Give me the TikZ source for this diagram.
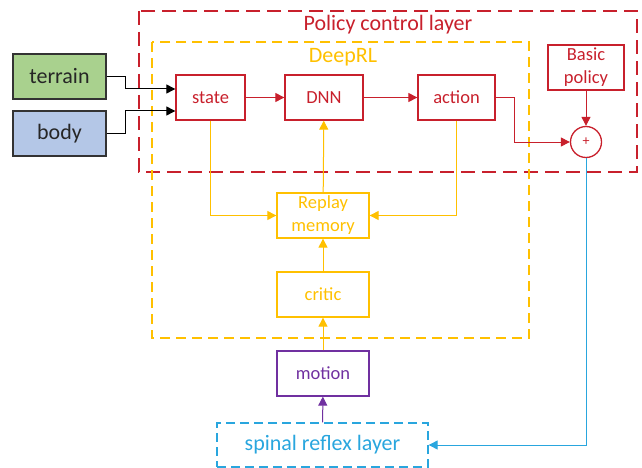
\documentclass[tikz,border=0pt]{standalone}
\usepackage{fontspec}
\setmainfont{Carlito}
\usetikzlibrary{arrows.meta}
\definecolor{pcred}{RGB}{200,32,44}
\definecolor{rlyel}{RGB}{255,192,0}
\definecolor{mopur}{RGB}{112,48,160}
\definecolor{spblu}{RGB}{41,166,222}
\definecolor{tergreen}{RGB}{169,209,142}
\definecolor{bodblue}{RGB}{180,199,231}

\begin{document}
\begin{tikzpicture}[x=1pt,y=-1pt,
  box/.style={draw,line width=1.3pt,minimum width=#1,minimum height=45pt,inner sep=0pt,
    align=center,font=\fontsize{18.5}{23}\selectfont},
  inbox/.style={draw=black!80,line width=1.3pt,minimum width=93pt,minimum height=45pt,
    font=\fontsize{22}{26}\selectfont,text=black!85},
  link/.style={line width=1pt,-{Triangle[length=9pt,width=9pt]}}]
 \useasboundingbox (0,0) rectangle (642,468);
 \draw[pcred,line width=2pt,dash pattern=on 14pt off 7pt] (139,11) rectangle (637,172); %方策制御層
 \node[pcred,font=\fontsize{22}{26}\selectfont] (pcl) at (388,25) {Policy control layer};
 \draw[rlyel,line width=1.3pt,dash pattern=on 10pt off 6pt] (152,42) rectangle (529,338); %DeepRL
 \node[rlyel,font=\fontsize{22}{26}\selectfont] (drl) at (343,57) {DeepRL};

 \node[inbox,fill=tergreen] (terrain) at (59.5,76.5) {terrain}; %入力
 \node[inbox,fill=bodblue] (body) at (59.5,133.5) {body};
 \node[box=69pt,pcred] (state) at (210.5,97.5) {state};
 \node[box=78pt,pcred] (dnn) at (324,97.5) {DNN};
 \node[box=77pt,pcred] (action) at (456.5,97.5) {action};
 \node[box=76pt,pcred] (basic) at (586,67.5) {Basic\\policy};
 \node[circle,draw=pcred,text=pcred,line width=1.3pt,minimum size=31pt,inner sep=0pt,
   font=\fontsize{14}{14}\selectfont] (sum) at (586,142) {+}; %加算
 \node[box=92pt,rlyel] (replay) at (323,215.5) {Replay\\memory};
 \node[box=92pt,rlyel] (critic) at (323,294.5) {critic};
 \node[box=92pt,mopur] (motion) at (323,373.5) {motion};
 \node[box=211pt,spblu,dash pattern=on 9pt off 5pt,minimum height=44pt,
   font=\fontsize{22}{26}\selectfont] (spinal) at (322.5,445) {spinal reflex layer};

 \draw[link,black] (terrain.east) -- (125,76.5) |- ([yshift=8.5pt]state.west);
 \draw[link,black] (body.east) -- (125,133.5) |- ([yshift=-13.5pt]state.west);
 \draw[link,pcred] (state) -- (dnn);
 \draw[link,pcred] (dnn) -- (action);
 \draw[link,pcred] (action.east) -- (514,97.5) |- (sum.west);
 \draw[link,pcred] (basic) -- (sum);
 \draw[link,rlyel] (state.south) |- (replay.west);
 \draw[link,rlyel] (action.south) |- (replay.east);
 \draw[link,rlyel] (replay) -- (dnn);
 \draw[link,rlyel] (critic) -- (replay);
 \draw[link,rlyel] (motion) -- (critic);
 \draw[link,mopur] (spinal) -- (motion);
 \draw[link,spblu] (sum.south) |- (spinal.east); %反射層へ
\end{tikzpicture}
\end{document}
